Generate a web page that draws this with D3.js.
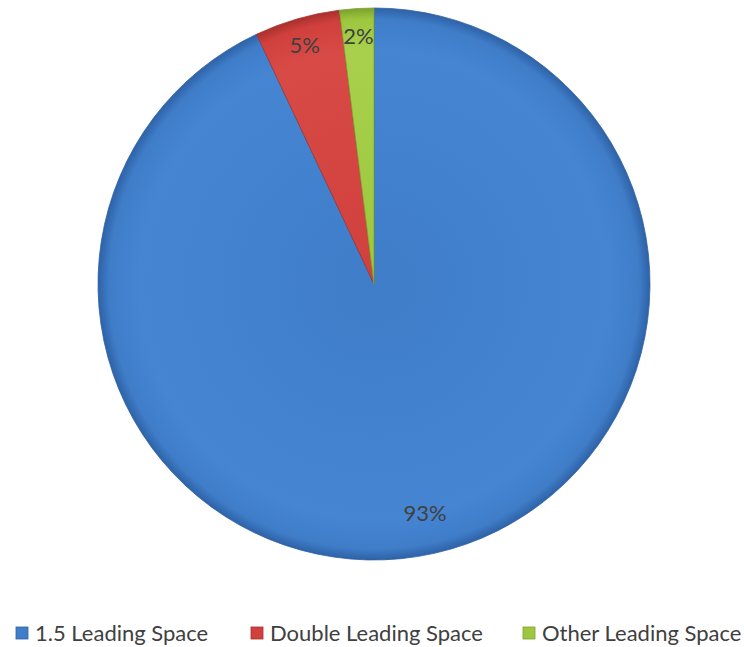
<!DOCTYPE html>
<html>
<head>
<meta charset="utf-8">
<script src="https://cdn.jsdelivr.net/npm/d3@7"></script>
<style>
  body { margin: 0; background: #fff; }
  text { font-family: Lato, "Noto Sans", sans-serif; }
</style>
</head>
<body>
<div id="chart"></div>
<script>
// Chart data
const categories = ["1.5 Leading Space", "Double Leading Space", "Other Leading Space"];
const values = [93, 5, 2];
const colors = ["#3F7DC9", "#D0403D", "#9DC73F"];
const darkColors = ["#2E62A6", "#A8302D", "#7BA22E"];
const lightColors = ["#4585D1", "#D84A46", "#A8D04C"];

const width = 744, height = 647;
const cx = 374, cy = 284, radius = 276;

const svg = d3.select("#chart")
    .append("svg")
    .attr("width", width)
    .attr("height", height);

const defs = svg.append("defs");

// radial gradients for the bevelled look (centre of pie is 0,0 inside the group)
colors.forEach((c, i) => {
    const g = defs.append("radialGradient")
        .attr("id", "grad" + i)
        .attr("gradientUnits", "userSpaceOnUse")
        .attr("cx", 0).attr("cy", 0).attr("r", radius);
    g.append("stop").attr("offset", "0%").attr("stop-color", c);
    g.append("stop").attr("offset", "85%").attr("stop-color", lightColors[i]);
    g.append("stop").attr("offset", "96%").attr("stop-color", c);
    g.append("stop").attr("offset", "100%").attr("stop-color", darkColors[i]);
});

const pieData = d3.pie().sort(null)(values);

const arc = d3.arc().innerRadius(0).outerRadius(radius);
// small slices get their label a bit further out, like Excel's best fit
const labelR = d => radius * (d.data > 50 ? 0.85 : 0.9);
const labelArc = d3.arc().innerRadius(labelR).outerRadius(labelR);

const g = svg.append("g").attr("transform", `translate(${cx},${cy})`);

g.selectAll(".slice")
    .data(pieData)
    .enter()
    .append("path")
    .attr("class", "slice")
    .attr("d", arc)
    .attr("fill", (d, i) => `url(#grad${i})`)
    .attr("stroke", (d, i) => darkColors[i])
    .attr("stroke-width", 0.8);

g.selectAll(".label")
    .data(pieData)
    .enter()
    .append("text")
    .attr("class", "label")
    .attr("transform", d => `translate(${labelArc.centroid(d)})`)
    .attr("text-anchor", "middle")
    .attr("dy", "0.35em")
    .style("font-size", "22px")
    .style("fill", "#404040")
    .text(d => d.data + "%");

// Legend
const legendX = [16, 251, 523];
const legend = svg.append("g").attr("transform", "translate(0,633)");
const item = legend.selectAll(".item")
    .data(categories)
    .enter()
    .append("g")
    .attr("transform", (d, i) => `translate(${legendX[i]},0)`);

item.append("rect")
    .attr("x", 0).attr("y", -6)
    .attr("width", 12).attr("height", 12)
    .attr("fill", (d, i) => colors[i])
    .attr("stroke", (d, i) => darkColors[i])
    .attr("stroke-width", 0.8);

item.append("text")
    .attr("x", 19)
    .attr("dy", "0.35em")
    .style("font-size", "22px")
    .style("fill", "#404040")
    .text(d => d);
</script>
</body>
</html>
